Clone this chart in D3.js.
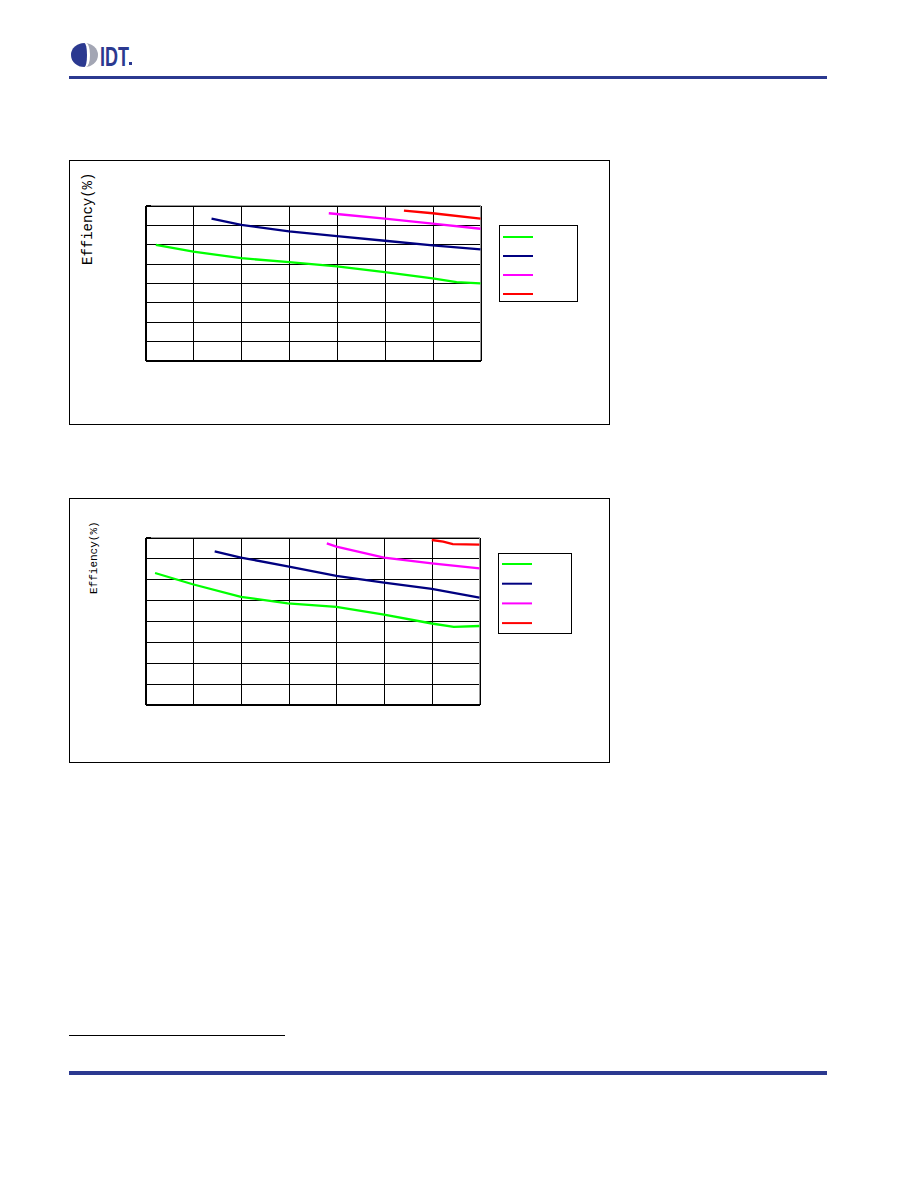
<!DOCTYPE html>
<html>
<head>
<meta charset="utf-8">
<script src="https://cdn.jsdelivr.net/npm/d3@7"></script>
<style>
  html, body { margin: 0; padding: 0; background: #fff; }
  svg { display: block; }
</style>
</head>
<body>
<svg id="page" width="918" height="1188"></svg>
<script>
// ---------- data ----------
const xTicks = [0, 0.5, 1.0, 1.5, 2.0, 2.5, 3.0, 3.5];
const yTicks = [60, 65, 70, 75, 80, 85, 90, 95, 100];
const yLabel = "Effiency(%)";
const seriesColors = ["#00ff00", "#000080", "#ff00ff", "#ff0000"];

// chart 1
const c1Green   = [[0.108, 89.85], [0.5, 88.1], [1.0, 86.4], [1.5, 85.4], [2.0, 84.3], [2.5, 82.8], [3.0, 81.2], [3.25, 80.2], [3.5, 79.9]];
const c1Navy    = [[0.69, 96.6], [1.0, 95.0], [1.5, 93.3], [2.0, 92.1], [2.5, 90.9], [3.0, 89.7], [3.5, 88.7]];
const c1Magenta = [[1.915, 98.0], [2.5, 96.6], [3.0, 95.3], [3.5, 94.0]];
const c1Red     = [[2.70, 98.7], [3.0, 98.0], [3.5, 96.6]];

// chart 2
const c2Green   = [[0.10, 91.5], [0.354, 89.76], [0.494, 88.8], [1.0, 85.8], [1.49, 84.2], [2.0, 83.4], [2.5, 81.5], [3.0, 79.4], [3.23, 78.6], [3.5, 78.8]];
const c2Navy    = [[0.725, 96.7], [1.0, 95.2], [1.49, 93.1], [2.0, 90.8], [2.5, 89.2], [3.0, 87.7], [3.5, 85.6]];
const c2Magenta = [[1.90, 98.6], [2.0, 97.8], [2.5, 95.2], [3.0, 93.8], [3.5, 92.6]];
const c2Red     = [[3.0, 99.4], [3.12, 99.0], [3.22, 98.4], [3.5, 98.3]];

// ---------- page decoration ----------
const svg = d3.select("#page");
const BLUE = "#2b3990";

// logo
const logo = svg.append("g");
logo.append("ellipse").attr("cx", 84.5).attr("cy", 55).attr("rx", 13.5).attr("ry", 12).attr("fill", "#a3a6b4");
logo.append("path")
  .attr("d", "M84.5,43 A13.5,12 0 0 0 84.5,67 L86,67 A4,12 0 0 0 86,43 Z")
  .attr("fill", "#ffffff");
logo.append("path")
  .attr("d", "M84.5,43 A13.5,12 0 0 0 84.5,67 A2.5,12 0 0 0 84.5,43 Z")
  .attr("fill", BLUE);
logo.append("text").attr("x", 100).attr("y", 65.5)
  .attr("font-family", "Liberation Sans, Arial, sans-serif")
  .attr("font-weight", "bold").attr("font-size", 27)
  .attr("textLength", 29).attr("lengthAdjust", "spacingAndGlyphs")
  .attr("fill", BLUE).text("IDT");
logo.append("rect").attr("x", 129).attr("y", 62).attr("width", 3).attr("height", 3).attr("fill", BLUE);

// header / footer rules
svg.append("rect").attr("x", 69).attr("y", 76).attr("width", 758).attr("height", 3).attr("fill", BLUE);
svg.append("rect").attr("x", 69).attr("y", 1071).attr("width", 758).attr("height", 4).attr("fill", BLUE);
svg.append("rect").attr("x", 69).attr("y", 1035).attr("width", 216).attr("height", 1).attr("fill", "#000");

// ---------- chart builder ----------
function drawChart(cfg) {
  const g = svg.append("g");
  g.append("rect").attr("x", cfg.box[0] + 0.5).attr("y", cfg.box[1] + 0.5)
    .attr("width", cfg.box[2]).attr("height", cfg.box[3])
    .attr("fill", "none").attr("stroke", "#000").attr("stroke-width", 1);

  const x = d3.scaleLinear().domain([xTicks[0], xTicks[xTicks.length - 1]]).range([cfg.plot.x0, cfg.plot.x1]);
  const y = d3.scaleLinear().domain([yTicks[0], yTicks[yTicks.length - 1]]).range([cfg.plot.y1, cfg.plot.y0]);
  const H = cfg.plot.y1 - cfg.plot.y0, W = cfg.plot.x1 - cfg.plot.x0;

  const gx = g.append("g").attr("transform", `translate(0,${cfg.plot.y0})`)
    .call(d3.axisBottom(x).tickValues(xTicks).tickSize(H).tickFormat(""));
  gx.select(".domain").remove();
  gx.selectAll(".tick line").attr("stroke", "#000").attr("shape-rendering", "crispEdges");

  const gy = g.append("g").attr("transform", `translate(${cfg.plot.x1},0)`)
    .call(d3.axisLeft(y).tickValues(yTicks).tickSize(W).tickFormat(""));
  gy.select(".domain").remove();
  gy.selectAll(".tick line").attr("stroke", "#000").attr("shape-rendering", "crispEdges");

  g.append("line").attr("x1", cfg.plot.x0).attr("x2", cfg.plot.x1).attr("y1", cfg.plot.y0).attr("y2", cfg.plot.y0)
    .attr("stroke", "#999").attr("shape-rendering", "crispEdges");
  g.append("line").attr("x1", cfg.plot.x1).attr("x2", cfg.plot.x1).attr("y1", cfg.plot.y0).attr("y2", cfg.plot.y1)
    .attr("stroke", "#999").attr("shape-rendering", "crispEdges");
  g.append("line").attr("x1", cfg.plot.x0).attr("x2", cfg.plot.x0).attr("y1", cfg.plot.y0).attr("y2", cfg.plot.y1)
    .attr("stroke", "#000").attr("shape-rendering", "crispEdges");
  g.append("line").attr("x1", cfg.plot.x0).attr("x2", cfg.plot.x1).attr("y1", cfg.plot.y1).attr("y2", cfg.plot.y1)
    .attr("stroke", "#000").attr("shape-rendering", "crispEdges");
  g.append("line").attr("x1", cfg.plot.x0).attr("x2", cfg.plot.x0 + 5).attr("y1", cfg.plot.y0).attr("y2", cfg.plot.y0)
    .attr("stroke", "#000").attr("shape-rendering", "crispEdges");

  const line = d3.line().x(d => x(d[0])).y(d => y(d[1]));
  cfg.series.forEach((s, i) => {
    g.append("path").datum(s).attr("d", line)
      .attr("fill", "none").attr("stroke", seriesColors[i]).attr("stroke-width", 2.3);
  });

  g.append("text")
    .attr("transform", `translate(${cfg.label.x},${cfg.label.y}) rotate(-90)`)
    .attr("font-family", "Liberation Mono, Courier New, monospace")
    .attr("font-size", cfg.label.size).attr("fill", "#000")
    .text(yLabel);

  const L = cfg.legend;
  g.append("rect").attr("x", L.x + 0.5).attr("y", L.y + 0.5).attr("width", L.w).attr("height", L.h)
    .attr("fill", "#fff").attr("stroke", "#000");
  seriesColors.forEach((c, i) => {
    g.append("line").attr("x1", L.x + 4).attr("x2", L.x + 34)
      .attr("y1", L.y0 + i * L.dy).attr("y2", L.y0 + i * L.dy)
      .attr("stroke", c).attr("stroke-width", 2);
  });
}

drawChart({
  box: [69, 160, 540, 264],
  plot: { x0: 145.5, x1: 480.5, y0: 205.5, y1: 360.5 },
  series: [c1Green, c1Navy, c1Magenta, c1Red],
  label: { x: 92, y: 265, size: 14 },
  legend: { x: 499, y: 225, w: 78, h: 76, y0: 237, dy: 19 }
});

drawChart({
  box: [69, 498, 540, 264],
  plot: { x0: 145.5, x1: 479.5, y0: 537.5, y1: 704.5 },
  series: [c2Green, c2Navy, c2Magenta, c2Red],
  label: { x: 97, y: 594, size: 11 },
  legend: { x: 498, y: 553, w: 73, h: 80, y0: 564, dy: 19.7 }
});
</script>
</body>
</html>
